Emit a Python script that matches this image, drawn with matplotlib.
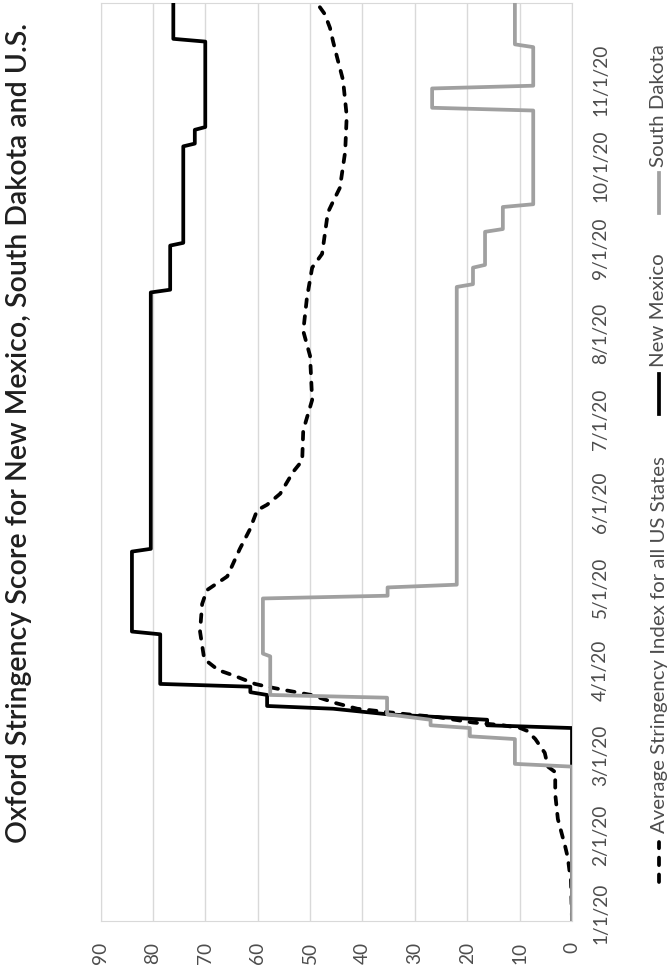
import matplotlib
matplotlib.use("Agg")
import matplotlib.pyplot as plt
import matplotlib.dates as mdates
import matplotlib.transforms as mt
from matplotlib.lines import Line2D
import pandas as pd

plt.rcParams['font.family'] = ['Lato', 'DejaVu Sans']

# ---------------- data ----------------
title = "Oxford Stringency Score for New Mexico, South Dakota and U.S."
series_names = ["Average Stringency Index for all US States", "New Mexico", "South Dakota"]

us_dates = ['2020-01-01', '2020-01-16', '2020-01-18', '2020-01-24', '2020-01-28', '2020-02-07',
            '2020-02-16', '2020-02-24', '2020-02-26', '2020-03-02', '2020-03-07', '2020-03-10',
            '2020-03-11', '2020-03-12', '2020-03-13', '2020-03-15', '2020-03-16', '2020-03-18',
            '2020-03-20', '2020-03-23', '2020-03-25', '2020-03-26', '2020-03-27', '2020-03-30',
            '2020-04-01', '2020-04-05', '2020-04-15', '2020-04-25', '2020-04-30', '2020-05-05',
            '2020-05-15', '2020-05-22', '2020-05-29', '2020-05-31', '2020-06-04', '2020-06-12',
            '2020-06-16', '2020-06-27', '2020-07-08', '2020-07-24', '2020-08-02', '2020-08-14',
            '2020-08-25', '2020-08-30', '2020-09-14', '2020-09-18', '2020-09-23', '2020-10-06',
            '2020-10-19', '2020-11-01', '2020-11-09', '2020-11-15', '2020-11-20', '2020-11-25',
            '2020-11-29']
us_vals = [0.0, 0.2, 0.4, 0.8, 1.3, 2.7,
           3.2, 3.2, 4.6, 5.2, 7.0, 8.6,
           9.9, 13.2, 18.9, 25.8, 31.5, 41.0,
           45.0, 49.8, 55.5, 58.2, 60.5, 64.5,
           67.5, 70.2, 71.0, 70.6, 69.7, 65.8,
           63.4, 61.5, 60.1, 58.2, 55.7, 53.2,
           51.5, 51.3, 49.6, 50.0, 51.3, 50.6,
           49.6, 47.7, 46.6, 45.6, 44.3, 43.3,
           43.0, 43.7, 44.8, 45.6, 46.2, 47.2,
           48.7]

nm_dates = ['2020-01-01', '2020-03-11', '2020-03-12', '2020-03-14', '2020-03-16', '2020-03-18',
            '2020-03-19', '2020-03-23', '2020-03-24', '2020-03-26', '2020-03-27', '2020-04-14',
            '2020-04-15', '2020-05-14', '2020-05-15', '2020-08-16', '2020-08-17', '2020-09-02',
            '2020-09-03', '2020-10-08', '2020-10-09', '2020-10-14', '2020-10-15', '2020-11-15',
            '2020-11-16', '2020-11-29']
nm_vals = [0.0, 0.0, 16.2, 16.2, 35.3, 45.6,
           58.2, 58.2, 61.4, 61.4, 78.6, 78.6,
           84.0, 84.0, 80.4, 80.4, 76.7, 76.7,
           74.2, 74.2, 72.0, 72.0, 70.0, 70.0,
           76.1, 76.1]

sd_dates = ['2020-01-01', '2020-02-26', '2020-02-27', '2020-03-07', '2020-03-08', '2020-03-11',
            '2020-03-12', '2020-03-14', '2020-03-16', '2020-03-22', '2020-03-23', '2020-04-06',
            '2020-04-07', '2020-04-27', '2020-04-28', '2020-05-01', '2020-05-02', '2020-08-18',
            '2020-08-19', '2020-08-25', '2020-08-26', '2020-09-07', '2020-09-08', '2020-09-16',
            '2020-09-17', '2020-10-21', '2020-10-22', '2020-10-29', '2020-10-30', '2020-11-13',
            '2020-11-14', '2020-11-29']
sd_vals = [0.0, 0.0, 10.9, 10.9, 19.5, 19.5,
           27.0, 27.0, 35.3, 35.3, 57.6, 57.6,
           59.0, 59.0, 35.2, 35.2, 22.0, 22.0,
           18.9, 18.9, 16.6, 16.6, 13.2, 13.2,
           7.4, 7.4, 26.7, 26.7, 7.4, 7.4,
           10.9, 10.9]

value_ticks = [0, 10, 20, 30, 40, 50, 60, 70, 80, 90]
month_ticks = ['2020-01-01', '2020-02-01', '2020-03-01', '2020-04-01', '2020-05-01', '2020-06-01',
               '2020-07-01', '2020-08-01', '2020-09-01', '2020-10-01', '2020-11-01']
month_labels = ['1/1/20', '2/1/20', '3/1/20', '4/1/20', '5/1/20', '6/1/20',
                '7/1/20', '8/1/20', '9/1/20', '10/1/20', '11/1/20']

# ---------------- figure ----------------
W, H, DPI = 670, 972, 100
fig = plt.figure(figsize=(W / DPI, H / DPI), dpi=DPI)
fig.patch.set_facecolor('white')

def fy(py):  # pixel from top -> figure fraction
    return 1 - py / H

ax = fig.add_axes([100.5 / W, fy(921), (572 - 100.5) / W, 918 / H])

renderer = fig.canvas.get_renderer()

def fit_size(s, target_px, base=12.0, **kw):
    t = fig.text(0, 0, s, fontsize=base, rotation=90, **kw)
    h = t.get_window_extent(renderer).height
    t.remove()
    return base * target_px / h

lw = 2.7
dash = (0, (2.0, 2.5))
ax.plot(us_vals, pd.to_datetime(us_dates), color='black', lw=lw,
        linestyle=dash, dash_capstyle='round', zorder=3)
ax.plot(nm_vals, pd.to_datetime(nm_dates), color='black', lw=lw, zorder=4)
ax.plot(sd_vals, pd.to_datetime(sd_dates), color='#a0a0a0', lw=lw, zorder=5)

ax.set_xlim(90, 0)
ax.set_ylim(pd.Timestamp(sd_dates[0]), pd.Timestamp(sd_dates[-1]))

grid_c = '#d9d9d9'
ax.set_xticks(value_ticks)
ax.xaxis.grid(True, color=grid_c, lw=1.0)
ax.set_axisbelow(True)
for sp in ax.spines.values():
    sp.set_color(grid_c)
    sp.set_linewidth(0.8)

lab_c = '#4d4d4d'
val_fs = fit_size('90', 22)
ax.set_xticklabels([str(v) for v in value_ticks], rotation=90, fontsize=val_fs, color=lab_c)
ax.tick_params(axis='x', length=0, pad=21 * 72 / DPI)
ax.set_yticks([])

date_fs = fit_size('10/1/20', 72)
trans = mt.blended_transform_factory(ax.transAxes, ax.transData)
for i, (d, lab) in enumerate(zip(month_ticks, month_labels)):
    off = 8 if i == 0 else 0
    ax.text(1.0, mdates.date2num(pd.Timestamp(d)), lab,
            transform=trans + mt.ScaledTranslation(20 / DPI, off / DPI, fig.dpi_scale_trans),
            rotation=90, ha='left', va='center', fontsize=date_fs, color=lab_c, clip_on=False)

# title
title_fs = fit_size(title, 820, weight='semibold')
fig.text(19 / W, fy(433), title, rotation=90, ha='center', va='center',
         fontsize=title_fs, color='#1f1f1f', weight='semibold')

# legend (manual, rotated)
leg_fs = fit_size(series_names[0], 376)
leg_x = 659 / W
fig.add_artist(Line2D([leg_x, leg_x], [fy(882), fy(842)], transform=fig.transFigure,
                      color='black', lw=lw, linestyle=dash, dash_capstyle='round'))
fig.text(leg_x, fy(833), series_names[0], rotation=90, ha='center', va='bottom',
         fontsize=leg_fs, color=lab_c)
fig.add_artist(Line2D([leg_x, leg_x], [fy(414), fy(374)], transform=fig.transFigure,
                      color='black', lw=lw))
fig.text(leg_x, fy(367), series_names[1], rotation=90, ha='center', va='bottom',
         fontsize=leg_fs, color=lab_c)
fig.add_artist(Line2D([leg_x, leg_x], [fy(213), fy(173)], transform=fig.transFigure,
                      color='#a0a0a0', lw=lw))
fig.text(leg_x, fy(167), series_names[2], rotation=90, ha='center', va='bottom',
         fontsize=leg_fs, color=lab_c)

fig.savefig('out.png', dpi=DPI)
